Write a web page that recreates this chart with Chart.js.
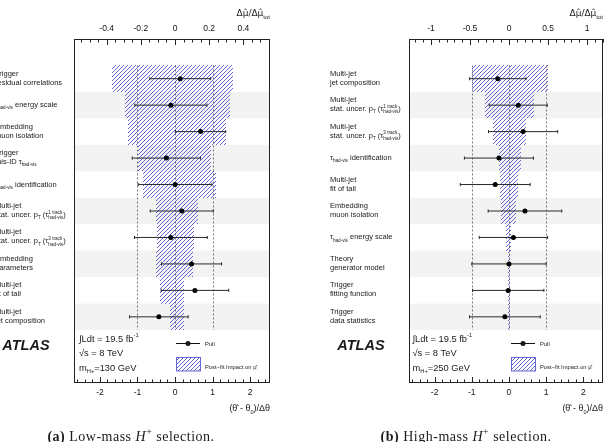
<!DOCTYPE html>
<html>
<head>
<meta charset="utf-8">
<script src="https://cdn.jsdelivr.net/npm/chart.js@4.4.1/dist/chart.umd.min.js"></script>
<style>
  html, body { margin: 0; padding: 0; background: #fff; }
  body { width: 608px; height: 442px; position: relative; overflow: hidden; }
  canvas { position: absolute; top: 0; }
  #low { left: 0; }
  #high { left: 300px; }
</style>
</head>
<body>
<canvas id="low" width="300" height="442"></canvas>
<canvas id="high" width="308" height="442"></canvas>
<script>
'use strict';

// ---------------------------------------------------------------------------
// Data (rows listed top to bottom)
// ---------------------------------------------------------------------------

const LOW_LABELS = [
  ['Trigger', 'residual correlations'],
  ['τ_{had-vis} energy scale'],
  ['Embedding', 'muon isolation'],
  ['Trigger', 'mis-ID τ_{had-vis}'],
  ['τ_{had-vis} identification'],
  ['Multi-jet', 'stat. uncer. p_{T} (τ^{1 track}_{had-vis})'],
  ['Multi-jet', 'stat. uncer. p_{T} (τ^{3 track}_{had-vis})'],
  ['Embedding', 'parameters'],
  ['Multi-jet', 'fit of tail'],
  ['Multi-jet', 'jet composition'],
];
const LOW_PULL = [0.14, -0.11, 0.68, -0.23, 0.00, 0.18, -0.11, 0.44, 0.53, -0.43];
const LOW_ERR = [0.81, 0.96, 0.67, 0.91, 0.98, 0.84, 0.97, 0.80, 0.90, 0.78];
const LOW_IMPACT_DN = [-0.37, -0.29, -0.275, -0.215, -0.19, -0.11, -0.105, -0.11, -0.085, -0.03];
const LOW_IMPACT_UP = [0.34, 0.32, 0.30, 0.21, 0.24, 0.135, 0.11, 0.105, 0.055, 0.05];

const HIGH_LABELS = [
  ['Multi-jet', 'jet composition'],
  ['Multi-jet', 'stat. uncer. p_{T} (τ^{1 track}_{had-vis})'],
  ['Multi-jet', 'stat. uncer. p_{T} (τ^{3 track}_{had-vis})'],
  ['τ_{had-vis} identification'],
  ['Multi-jet', 'fit of tail'],
  ['Embedding', 'muon isolation'],
  ['τ_{had-vis} energy scale'],
  ['Theory', 'generator model'],
  ['Trigger', 'fitting function'],
  ['Trigger', 'data statistics'],
];
const HIGH_PULL = [-0.30, 0.25, 0.38, -0.27, -0.37, 0.43, 0.12, 0.00, -0.02, -0.11];
const HIGH_ERR = [0.76, 0.78, 0.93, 0.93, 0.94, 0.99, 0.92, 1.00, 0.96, 0.95];
const HIGH_IMPACT_DN = [-0.475, -0.31, -0.20, -0.13, -0.12, -0.10, -0.04, -0.015, -0.008, -0.008];
const HIGH_IMPACT_UP = [0.505, 0.315, 0.22, 0.155, 0.117, 0.09, 0.03, 0.016, 0.008, 0.008];

const PULL_TICKS = [-2, -1, 0, 1, 2];
const LOW_IMPACT_TICKS = [-0.4, -0.2, 0, 0.2, 0.4];
const HIGH_IMPACT_TICKS = [-1, -0.5, 0, 0.5, 1];

const PULL_RANGE = [-2.69, 2.53];
const LOW_IMPACT_RANGE = [-0.591, 0.556];
const HIGH_IMPACT_RANGE = [-1.281, 1.204];

// ---------------------------------------------------------------------------
// Style
// ---------------------------------------------------------------------------

const SANS = '"Liberation Sans", Arial, sans-serif';
const SERIF = '"Liberation Serif", "Times New Roman", serif';
const INK = '#1a1a1a';
const HATCH_COLOR = '#6464d8';
const BAND_COLOR = '#f3f3f3';

// ---------------------------------------------------------------------------
// Text helpers: "_{..}" subscript, "^{..}" superscript, "^{a}_{b}" stacked
// ---------------------------------------------------------------------------

function richParts(str) {
  const parts = [];
  const re = /\^\{([^}]*)\}_\{([^}]*)\}|_\{([^}]*)\}|\^\{([^}]*)\}/g;
  let last = 0;
  let m;
  while ((m = re.exec(str))) {
    if (m.index > last) parts.push({ t: str.slice(last, m.index) });
    if (m[1] !== undefined) parts.push({ sup: m[1], sub: m[2] });
    else if (m[3] !== undefined) parts.push({ sub: m[3] });
    else parts.push({ sup: m[4] });
    last = re.lastIndex;
  }
  if (last < str.length) parts.push({ t: str.slice(last) });
  return parts;
}

function drawRich(ctx, str, x, y, size, measureOnly) {
  const x0 = x;
  const small = size * 0.62;
  richParts(str).forEach(p => {
    if (p.t !== undefined) {
      ctx.font = `${size}px ${SANS}`;
      if (!measureOnly) ctx.fillText(p.t, x, y);
      x += ctx.measureText(p.t).width;
      return;
    }
    ctx.font = `${small}px ${SANS}`;
    let w = 0;
    if (p.sup !== undefined) {
      if (!measureOnly) ctx.fillText(p.sup, x, y - size * 0.45);
      w = ctx.measureText(p.sup).width;
    }
    if (p.sub !== undefined) {
      if (!measureOnly) ctx.fillText(p.sub, x, y + size * 0.28);
      w = Math.max(w, ctx.measureText(p.sub).width);
    }
    x += w;
  });
  return x - x0;
}

// Diagonal "////" hatch inside a rectangle, built from whole pixels so the
// colour survives (thin anti-aliased strokes came out grey on the chart canvas).
function hatchRect(ctx, x0, y0, x1, y1) {
  const left = Math.round(x0);
  const right = Math.max(Math.round(x1), left + 1);
  const top = Math.round(y0);
  const bottom = Math.round(y1);
  ctx.save();
  ctx.fillStyle = HATCH_COLOR;
  for (let py = top; py < bottom; py++) {
    for (let px = left + ((4 - ((left + py) % 4)) % 4); px < right; px += 4) {
      ctx.fillRect(px, py, 1, 1);
    }
  }
  ctx.restore();
}

function drawAxisTicks(ctx, scale, edgeY, dir, minorStep, perMajor) {
  const k0 = Math.ceil(scale.min / minorStep - 1e-9);
  const k1 = Math.floor(scale.max / minorStep + 1e-9);
  ctx.beginPath();
  for (let k = k0; k <= k1; k++) {
    const px = Math.round(scale.getPixelForValue(k * minorStep)) + 0.5;
    const len = k % perMajor === 0 ? 6 : 3.5;
    ctx.moveTo(px, edgeY);
    ctx.lineTo(px, edgeY + dir * len);
  }
  ctx.stroke();
}

// ---------------------------------------------------------------------------
// Panel renderer
// ---------------------------------------------------------------------------

function panelPlugin(panel) {
  return {
    id: 'pullPanel',
    beforeDatasetsDraw(chart) {
      const { ctx, chartArea: a, scales: { x, y } } = chart;
      ctx.save();
      // Alternating row bands.
      ctx.fillStyle = BAND_COLOR;
      panel.labels.forEach((_, i) => {
        if (i % 2 === 0) return;
        const top = y.getPixelForValue(i - 0.5);
        const bot = y.getPixelForValue(i + 0.5);
        ctx.fillRect(a.left, top, a.width, bot - top);
      });
      // Dotted reference lines at -1, 0, +1.
      ctx.strokeStyle = '#777';
      ctx.lineWidth = 1;
      ctx.setLineDash([2, 2]);
      const yTop = y.getPixelForValue(-0.5);
      const yBot = y.getPixelForValue(panel.labels.length - 0.5);
      [-1, 0, 1].forEach(v => {
        const px = Math.round(x.getPixelForValue(v)) + 0.5;
        ctx.beginPath();
        ctx.moveTo(px, yTop);
        ctx.lineTo(px, yBot);
        ctx.stroke();
      });
      ctx.restore();
    },
    afterDatasetDraw(chart, args) {
      // Hatch the impact bars (dataset 0) using the element geometry from Chart.js.
      if (args.index !== 0) return;
      const ctx = chart.ctx;
      args.meta.data.forEach(bar => {
        const p = bar.getProps(['x', 'y', 'base', 'height'], true);
        hatchRect(ctx, Math.min(p.x, p.base), p.y - p.height / 2, Math.max(p.x, p.base), p.y + p.height / 2);
      });
    },
    afterDraw(chart) {
      const { ctx, chartArea: a, scales: { x, x2, y } } = chart;
      ctx.save();

      // Frame and inward ticks.
      ctx.strokeStyle = '#222';
      ctx.lineWidth = 1;
      ctx.strokeRect(a.left + 0.5, a.top + 0.5, a.width - 1, a.height - 1);
      drawAxisTicks(ctx, x, a.bottom, -1, 0.2, 5);
      drawAxisTicks(ctx, x2, a.top, 1, panel.topMinor, panel.topPerMajor);

      ctx.fillStyle = INK;
      ctx.textBaseline = 'alphabetic';

      // Row labels.
      const lx = a.left - 79;
      panel.labels.forEach((lines, i) => {
        const yc = y.getPixelForValue(i);
        if (lines.length === 1) {
          drawRich(ctx, lines[0], lx, yc + 2, 7.5);
        } else {
          drawRich(ctx, lines[0], lx, yc - 3, 7.5);
          drawRich(ctx, lines[1], lx, yc + 6, 7.5);
        }
      });

      // Top axis title.
      const muText = 'Δμ\u0302/Δμ\u0302';
      ctx.font = `6px ${SANS}`;
      const totW = ctx.measureText('tot').width;
      ctx.font = `9px "DejaVu Sans", ${SANS}`;
      const muW = ctx.measureText(muText).width;
      ctx.fillText(muText, a.right - totW - muW, 15.5);
      ctx.font = `6px ${SANS}`;
      ctx.fillText('tot', a.right - totW, 19);

      // Bottom axis title.
      const thetaText = '(θ\u0302 - θ_{0})/Δθ';
      const tw = drawRich(ctx, thetaText, 0, 0, 9, true);
      drawRich(ctx, thetaText, a.right - tw, 411, 9);

      // Experiment labels.
      ctx.font = `bold italic 14.5px ${SANS}`;
      ctx.fillText('ATLAS', a.left - 71.7, 350.3);
      const ix = a.left + panel.infoDx;
      drawRich(ctx, '∫Ldt = 19.5 fb^{-1}', ix, 341.5, 9.3);
      drawRich(ctx, '√s = 8 TeV', ix, 356, 9.3);
      drawRich(ctx, panel.massText, ix, 370.5, 9.3);

      // Legend.
      const gx = a.left + 102;
      ctx.strokeStyle = '#111';
      ctx.beginPath();
      ctx.moveTo(gx, 343.5);
      ctx.lineTo(gx + 24, 343.5);
      ctx.stroke();
      ctx.beginPath();
      ctx.arc(gx + 12, 343.5, 2.5, 0, Math.PI * 2);
      ctx.fill();
      hatchRect(ctx, gx, 357, gx + 25, 371);
      ctx.strokeStyle = HATCH_COLOR;
      ctx.strokeRect(gx + 0.5, 357.5, 24, 13.5);
      ctx.fillStyle = INK;
      ctx.font = `5.8px ${SANS}`;
      ctx.fillText('Pull', gx + 29, 345.5);
      ctx.fillText('Post\u2212fit Impact on μ\u0302', gx + 29, 368.8);

      // Caption.
      const segs = [
        { t: panel.tag, f: `bold 14px ${SERIF}` },
        { t: ` ${panel.kind}-mass `, f: `14px ${SERIF}` },
        { t: 'H', f: `italic 14px ${SERIF}` },
        { t: '+', f: `10px ${SERIF}`, dy: -5.5 },
        { t: ' selection.', f: `14px ${SERIF}` },
      ];
      ctx.letterSpacing = '0.5px';
      let total = 0;
      segs.forEach(s => { ctx.font = s.f; s.w = ctx.measureText(s.t).width; total += s.w; });
      let cx = panel.captionX - total / 2;
      segs.forEach(s => {
        ctx.font = s.f;
        ctx.fillText(s.t, cx, 440.5 + (s.dy || 0));
        cx += s.w;
      });
      ctx.letterSpacing = '0px';

      ctx.restore();
    },
  };
}

function renderPanel(canvasId, panel) {
  const canvas = document.getElementById(canvasId);
  canvas.getContext('2d', { willReadFrequently: true });
  const rows = panel.labels.map((_, i) => i);

  const impacts = panel.dn.map((d, i) => ({ x: [d, panel.up[i]], y: i }));
  const pulls = panel.pull.map((v, i) => ({ x: v, y: i }));
  const whiskers = [];
  panel.pull.forEach((v, i) => {
    whiskers.push({ x: v - panel.err[i], y: i }, { x: v + panel.err[i], y: i }, { x: null, y: null });
  });

  const tickFont = { family: SANS, size: 8.5 };

  new Chart(canvas, {
    type: 'scatter',
    data: {
      datasets: [
        {
          type: 'bar',
          indexAxis: 'y',
          xAxisID: 'x2',
          yAxisID: 'y',
          data: impacts,
          backgroundColor: 'rgba(0,0,0,0)',
          borderWidth: 0,
          inflateAmount: 0,
          grouped: false,
          barPercentage: 1,
          categoryPercentage: 1,
          order: 3,
        },
        {
          type: 'scatter',
          xAxisID: 'x',
          yAxisID: 'y',
          data: whiskers,
          showLine: true,
          spanGaps: false,
          borderColor: '#2a2a2a',
          borderWidth: 1,
          pointStyle: 'line',
          pointRotation: 90,
          pointRadius: 1.6,
          pointBorderColor: '#2a2a2a',
          pointBorderWidth: 1,
          order: 2,
        },
        {
          type: 'scatter',
          xAxisID: 'x',
          yAxisID: 'y',
          data: pulls,
          pointRadius: 2.5,
          pointBackgroundColor: '#000',
          pointBorderWidth: 0,
          order: 1,
        },
      ],
    },
    options: {
      responsive: false,
      animation: false,
      devicePixelRatio: 1,
      events: [],
      layout: { padding: { left: panel.padLeft, right: panel.padRight, top: 0, bottom: 0 } },
      plugins: {
        legend: { display: false },
        tooltip: { enabled: false },
      },
      scales: {
        x: {
          type: 'linear',
          position: 'bottom',
          min: PULL_RANGE[0],
          max: PULL_RANGE[1],
          afterBuildTicks: s => { s.ticks = PULL_TICKS.map(v => ({ value: v })); },
          afterFit: s => { s.height = 59; },
          ticks: { font: tickFont, color: '#111', padding: 5, maxRotation: 0, autoSkip: false, callback: v => String(v) },
          grid: { display: false, drawTicks: false },
          border: { display: false },
        },
        x2: {
          type: 'linear',
          position: 'top',
          min: panel.topRange[0],
          max: panel.topRange[1],
          afterBuildTicks: s => { s.ticks = panel.topTicks.map(v => ({ value: v })); },
          afterFit: s => { s.height = 39; },
          ticks: { font: tickFont, color: '#111', padding: 5, maxRotation: 0, autoSkip: false, callback: v => String(v) },
          grid: { display: false, drawTicks: false },
          border: { display: false },
        },
        y: {
          type: 'linear',
          reverse: true,
          min: -1.5,
          max: 11.5,
          offset: false,
          display: false,
          afterBuildTicks: s => { s.ticks = rows.map(v => ({ value: v })); },
          grid: { offset: false },
        },
      },
    },
    plugins: [panelPlugin(panel)],
  });
}

renderPanel('low', {
  labels: LOW_LABELS,
  pull: LOW_PULL,
  err: LOW_ERR,
  dn: LOW_IMPACT_DN,
  up: LOW_IMPACT_UP,
  topTicks: LOW_IMPACT_TICKS,
  topRange: LOW_IMPACT_RANGE,
  topMinor: 0.05,
  topPerMajor: 4,
  padLeft: 74,
  padRight: 30,
  infoDx: 5,
  massText: 'm_{H+}=130 GeV',
  tag: '(a)',
  kind: 'Low',
  captionX: 131,
});

renderPanel('high', {
  labels: HIGH_LABELS,
  pull: HIGH_PULL,
  err: HIGH_ERR,
  dn: HIGH_IMPACT_DN,
  up: HIGH_IMPACT_UP,
  topTicks: HIGH_IMPACT_TICKS,
  topRange: HIGH_IMPACT_RANGE,
  topMinor: 0.1,
  topPerMajor: 5,
  padLeft: 109,
  padRight: 2,
  infoDx: 3.5,
  massText: 'm_{H+}=250 GeV',
  tag: '(b)',
  kind: 'High',
  captionX: 166,
});
</script>
</body>
</html>
